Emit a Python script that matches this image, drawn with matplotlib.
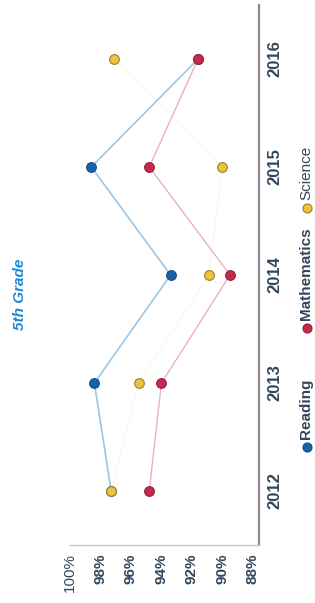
import matplotlib
matplotlib.use("Agg")
import matplotlib.pyplot as plt

# 5th grade proficiency by year (chart is printed rotated 90 degrees)
years = [2012, 2013, 2014, 2015, 2016]
reading = [97.3, 98.4, 93.4, 98.6, 91.6]
mathematics = [94.8, 94.0, 89.5, 94.8, 91.6]
science = [97.3, 95.5, 90.9, 90.0, 97.1]
pct_ticks = [100, 98, 96, 94, 92, 90, 88]

plt.rcParams["font.family"] = ["Liberation Sans", "DejaVu Sans"]

TXT = "#34465a"
BLUE, BLUE_LINE = "#1863a8", "#9cc6e4"
RED, RED_LINE = "#c42a4c", "#eab0c0"
GOLD, GOLD_LINE = "#e9c43c", "#f3e6b8"

fig = plt.figure(figsize=(3.15, 6.03), dpi=100)
ax = fig.add_axes([70 / 315, 1 - 545 / 603, 189 / 315, 540 / 603])

# values on the horizontal axis, years on the vertical one
ax.plot(science, years, color=GOLD_LINE, lw=0.8, alpha=0.3, zorder=1)
ax.plot(reading, years, color=BLUE_LINE, lw=1.2, zorder=2)
ax.plot(mathematics, years, color=RED_LINE, lw=1.0, zorder=2)
ms = 7
ax.plot(reading, years, "o", ms=ms, color=BLUE, mec="#0f4f8a", mew=0.8, zorder=3)
ax.plot(mathematics, years, "o", ms=ms, color=RED, mec="#9c1c3a", mew=0.8, zorder=4)
ax.plot(science, years, "o", ms=ms, color=GOLD, mec="#9a8030", mew=0.8, zorder=5)

ax.set_xlim(100, 87.6)
ax.set_ylim(2011.5, 2016.5)
ax.set_xticks(pct_ticks)
ax.set_xticklabels([f"{t}%" for t in pct_ticks], rotation=90, fontsize=11,
                   fontweight="bold", color=TXT)
ax.xaxis.get_ticklabels()[0].set_fontweight("normal")
ax.set_yticks(years)
ax.yaxis.tick_right()
ax.set_yticklabels([str(y) for y in years], rotation=90, va="center",
                   fontsize=12, fontweight="bold", color=TXT)
ax.tick_params(axis="x", length=0, pad=6)
ax.tick_params(axis="y", length=0, pad=6)

for side in ["left", "top"]:
    ax.spines[side].set_visible(False)
ax.spines["right"].set_color("#8a8a90")
ax.spines["right"].set_linewidth(1.6)
ax.spines["bottom"].set_color("#c4c4cc")
ax.spines["bottom"].set_linewidth(1.0)

# overlay in pixel coordinates for title and legend
ov = fig.add_axes([0, 0, 1, 1])
ov.set_xlim(0, 315)
ov.set_ylim(603, 0)
ov.axis("off")

ov.text(20, 294, "5th Grade", rotation=90, ha="center", va="center",
        fontsize=11, fontweight="bold", style="italic", color="#1a8ad6")

legend = [("Reading", BLUE, "#0f4f8a", "bold", 447),
          ("Mathematics", RED, "#9c1c3a", "bold", 328),
          ("Science", GOLD, "#9a8030", "normal", 208)]
for name, c, ec, w, y in legend:
    ov.plot(307, y, "o", ms=6.5, color=c, mec=ec, mew=0.8)
    ov.text(306, y - 8, name, rotation=90, ha="center", va="bottom",
            fontsize=11, fontweight=w, color=TXT)

fig.savefig("out.png", dpi=100)
